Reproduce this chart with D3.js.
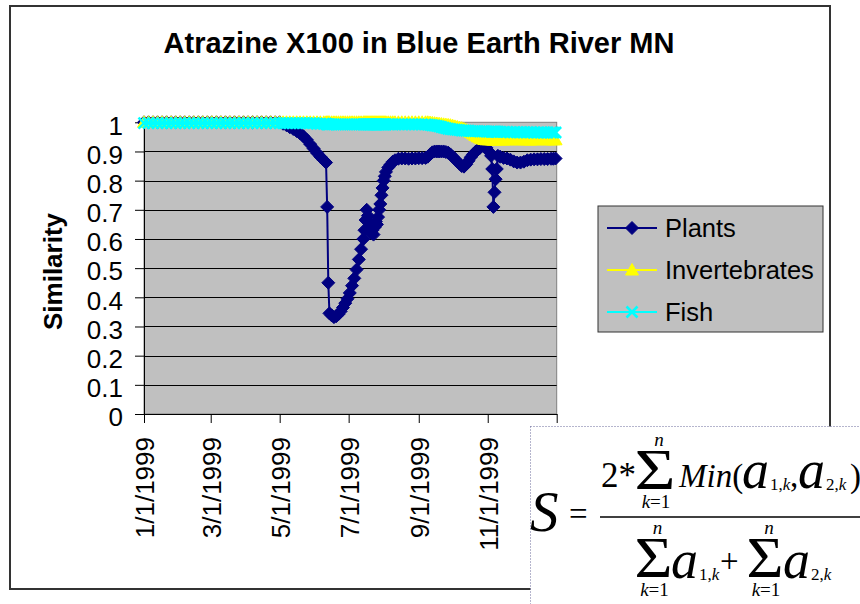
<!DOCTYPE html>
<html>
<head>
<meta charset="utf-8">
<script src="https://cdn.jsdelivr.net/npm/d3@7"></script>
<style>
  body { margin: 0; background: #fff; }
  svg { display: block; }
</style>
</head>
<body>
<div id="chart"></div>
<script>
// sample dates (1999), finer where the Plants curve moves fast
const dates = [
  "1/1","1/5","1/9","1/13","1/17","1/21","1/25","1/29","2/2","2/6","2/10","2/14","2/18","2/22","2/26","3/2","3/6","3/10","3/14","3/18","3/22","3/26","3/30","4/3","4/7","4/11","4/15","4/19","4/23","4/27","5/1",
  "5/4","5/7","5/10","5/13","5/16","5/19","5/22","5/25","5/28","5/31","6/3","6/6","6/9","6/11",
  "6/12","6/13","6/14","6/16","6/18","6/20","6/22","6/24","6/26","6/28","6/30","7/2","7/4","7/6","7/8","7/10","7/12","7/14","7/15","7/16","7/17","7/18","7/19","7/20","7/21","7/22","7/23","7/24","7/25","7/26","7/27","7/28","7/29","7/30","7/31","8/1","8/2","8/3","8/5","8/7","8/9","8/11",
  "8/14","8/17","8/20","8/23","8/26","8/29","9/1","9/4","9/7",
  "9/9","9/11","9/13","9/15","9/17","9/19","9/21","9/23","9/25","9/27","9/29","10/1","10/3","10/5","10/7","10/9","10/11","10/13","10/15","10/17","10/19","10/21","10/23","10/25","10/27","10/29","10/31","11/2","11/4",
  "11/5","11/6","11/7","11/8","11/9","11/10","11/12","11/15","11/18","11/21","11/24","11/27","11/30","12/3","12/6","12/9","12/12","12/15","12/18","12/21","12/24","12/27","12/29","12/31"
];

const plantValues = [
  1,1,1,1,1,1,1,1,1,1,1,1,1,1,1,1,1,1,1,1,1,1,1,1,1,1,1,1,1,1,1,
  0.995,0.99,0.983,0.977,0.97,0.962,0.952,0.94,0.925,0.91,0.895,0.882,0.87,0.862,
  0.71,0.45,0.345,0.338,0.332,0.335,0.342,0.352,0.365,0.38,0.395,0.415,0.44,0.465,0.495,0.53,0.565,0.6,0.63,0.665,0.7,0.68,0.655,0.635,0.62,0.63,0.615,0.64,0.66,0.65,0.675,0.7,0.72,0.75,0.775,0.8,0.815,0.83,0.845,0.855,0.865,0.87,
  0.875,0.876,0.876,0.875,0.876,0.876,0.877,0.877,0.878,
  0.882,0.89,0.897,0.9,0.9,0.9,0.9,0.9,0.898,0.896,0.89,0.882,0.874,0.866,0.858,0.85,0.848,0.856,0.868,0.88,0.89,0.898,0.905,0.912,0.92,0.922,0.912,0.9,0.885,
  0.84,0.71,0.76,0.805,0.84,0.885,0.882,0.878,0.876,0.872,0.866,0.862,0.862,0.865,0.87,0.872,0.873,0.873,0.874,0.874,0.874,0.875,0.875,0.876
];

const invertValues = [
  1,1,1,1,1,1,1,1,1,1,1,1,1,1,1,1,1,1,1,1,1,1,1,1,1,1,1,1,1,1,1,
  1,1,1,1,1,1,1,1,1,1,1,1,1,1,
  1,1,1,1,1,1,1,1,1,1,1,1,1,1,1,1,1,1,1,1,1,1,1,1,1,1,1,1,1,1,1,1,1,1,1,1,1,1,1,1,1,1,
  1,1,1,1,1,1,1,1,1,
  1,0.999,0.998,0.997,0.996,0.995,0.994,0.993,0.992,0.991,0.99,0.988,0.986,0.984,0.982,0.98,0.977,0.974,0.97,0.965,0.96,0.955,0.95,0.946,0.943,0.941,0.94,0.94,0.94,
  0.94,0.939,0.94,0.94,0.941,0.94,0.94,0.939,0.94,0.94,0.941,0.94,0.94,0.94,0.94,0.939,0.94,0.94,0.941,0.94,0.94,0.94,0.94,0.94
];

const fishValues = [
  0.997,0.997,0.997,0.997,0.997,0.997,0.997,0.997,0.997,0.997,0.997,0.997,0.997,0.997,0.997,0.997,0.997,0.997,0.997,0.997,0.997,0.997,0.997,0.997,0.997,0.997,0.997,0.997,0.997,0.997,0.997,
  0.997,0.997,0.997,0.997,0.997,0.997,0.997,0.997,0.997,0.997,0.995,0.995,0.995,0.995,
  0.993,0.993,0.993,0.993,0.993,0.993,0.993,0.993,0.993,0.993,0.993,0.993,0.993,0.993,0.993,0.993,0.993,0.993,0.993,0.993,0.993,0.993,0.993,0.993,0.993,0.993,0.993,0.993,0.993,0.993,0.993,0.993,0.993,0.993,0.993,0.993,0.993,0.993,0.993,0.993,0.993,0.993,
  0.993,0.993,0.993,0.993,0.993,0.993,0.993,0.993,0.993,
  0.992,0.991,0.99,0.989,0.988,0.986,0.984,0.982,0.98,0.978,0.977,0.976,0.975,0.974,0.973,0.972,0.972,0.971,0.971,0.97,0.97,0.97,0.97,0.969,0.969,0.969,0.968,0.968,0.968,
  0.968,0.968,0.968,0.968,0.967,0.967,0.967,0.967,0.967,0.966,0.966,0.966,0.966,0.966,0.966,0.966,0.965,0.965,0.965,0.965,0.965,0.965,0.965,0.965
];

const seriesNames = ["Plants", "Invertebrates", "Fish"];
const yTicks = [0, 0.1, 0.2, 0.3, 0.4, 0.5, 0.6, 0.7, 0.8, 0.9, 1];
const yTickLabels = ["0", "0.1", "0.2", "0.3", "0.4", "0.5", "0.6", "0.7", "0.8", "0.9", "1"];
const xTickDates = ["1/1/1999", "3/1/1999", "5/1/1999", "7/1/1999", "9/1/1999", "11/1/1999", "1/1/2000"];
// the 1/1/2000 label sits under the equation box in the reference
const xTickLabels = ["1/1/1999", "3/1/1999", "5/1/1999", "7/1/1999", "9/1/1999", "11/1/1999"];

const FONT = 'Arial, "Liberation Sans", sans-serif';
const SERIF = '"Liberation Serif", "Times New Roman", serif';
const colors = ["#000080", "#ffff00", "#00ffff"];

const W = 860, H = 604;
const plot = { left: 144, right: 556.7, top: 122.3, bottom: 414 };

const parseDate = d3.timeParse("%m/%d/%Y");
const toDate = s => parseDate(s + "/1999");

const svg = d3.select("#chart").append("svg")
  .attr("width", W)
  .attr("height", H);

// chart frame
svg.append("rect")
  .attr("x", 10).attr("y", 6).attr("width", 820).attr("height", 583)
  .attr("fill", "#fff").attr("stroke", "#333").attr("stroke-width", 2);

const x = d3.scaleTime()
  .domain([parseDate("1/1/1999"), parseDate("1/1/2000")])
  .range([plot.left, plot.right]);
const y = d3.scaleLinear().domain([0, 1]).range([plot.bottom, plot.top]);

// plot area + gridlines
svg.append("rect")
  .attr("x", plot.left).attr("y", plot.top)
  .attr("width", plot.right - plot.left).attr("height", plot.bottom - plot.top)
  .attr("fill", "#c0c0c0").attr("stroke", "#808080");

svg.append("g").selectAll("line")
  .data(yTicks.filter(v => v > 0 && v < 1))
  .join("line")
  .attr("x1", plot.left).attr("x2", plot.right)
  .attr("y1", d => Math.round(y(d)) + 0.5).attr("y2", d => Math.round(y(d)) + 0.5)
  .attr("stroke", "#000");

// axes
const yAxis = svg.append("g")
  .attr("transform", `translate(${plot.left},0)`)
  .call(d3.axisLeft(y).tickValues(yTicks).tickFormat((d, i) => yTickLabels[i])
    .tickSize(9).tickSizeOuter(0).tickPadding(12));
yAxis.attr("font-size", 26).attr("font-family", FONT);
yAxis.selectAll("text").attr("dy", "0.45em").attr("fill", "#000");

const xAxis = svg.append("g")
  .attr("transform", `translate(0,${plot.bottom})`)
  .call(d3.axisBottom(x).tickValues(xTickDates.map(parseDate))
    .tickFormat((d, i) => xTickLabels[i] || "").tickSize(9).tickSizeOuter(0));
xAxis.attr("font-size", 26).attr("font-family", FONT);
xAxis.selectAll("text")
  .attr("y", null).attr("dy", null)
  .attr("text-anchor", "end")
  .attr("fill", "#000")
  .attr("transform", "translate(9.5,23) rotate(-90)");

// series
const seriesData = [plantValues, invertValues, fishValues].map((vals, k) => ({
  name: seriesNames[k],
  color: colors[k],
  points: dates.map((s, i) => ({ date: toDate(s), value: vals[i] }))
}));

const markerPaths = {
  Plants: "M0,-6.5L6.5,0L0,6.5L-6.5,0Z",
  Invertebrates: "M0,-6.5L6.5,5L-6.5,5Z",
  Fish: "M-5.5,-5.5L5.5,5.5M-5.5,5.5L5.5,-5.5"
};

function drawMarker(sel, name, color) {
  sel.attr("d", markerPaths[name]);
  if (name === "Fish") {
    sel.attr("fill", "none").attr("stroke", color).attr("stroke-width", 2.6);
  } else {
    sel.attr("fill", color).attr("stroke", color).attr("stroke-width", 1);
  }
}

const line = d3.line().x(d => x(d.date)).y(d => y(d.value));

const gSeries = svg.append("g");
for (const s of seriesData) {
  const g = gSeries.append("g");
  g.append("path")
    .datum(s.points)
    .attr("d", line)
    .attr("fill", "none")
    .attr("stroke", s.color)
    .attr("stroke-width", 2);
  g.selectAll("path.mk").data(s.points).join("path")
    .attr("class", "mk")
    .attr("transform", d => `translate(${x(d.date)},${y(d.value)})`)
    .call(drawMarker, s.name, s.color);
}

// title and y label
svg.append("text")
  .attr("x", 419).attr("y", 53)
  .attr("text-anchor", "middle")
  .attr("font-family", FONT).attr("font-weight", "bold").attr("font-size", 29)
  .text("Atrazine X100 in Blue Earth River MN");

svg.append("text")
  .attr("transform", "translate(62,271.5) rotate(-90)")
  .attr("text-anchor", "middle")
  .attr("font-family", FONT).attr("font-weight", "bold").attr("font-size", 26)
  .text("Similarity");

// legend
const legend = svg.append("g");
legend.append("rect")
  .attr("x", 598).attr("y", 206).attr("width", 225).attr("height", 126)
  .attr("fill", "#c0c0c0").attr("stroke", "#333");
const legendY = d3.scalePoint().domain(seriesNames).range([228, 312]);
const item = legend.selectAll("g.item").data(seriesData).join("g")
  .attr("class", "item")
  .attr("transform", d => `translate(0,${legendY(d.name)})`);
item.append("line")
  .attr("x1", 607).attr("x2", 657)
  .attr("stroke", d => d.color).attr("stroke-width", 2);
item.append("path")
  .attr("transform", "translate(632,0)")
  .each(function (d) { d3.select(this).call(drawMarker, d.name, d.color); });
item.append("text")
  .attr("x", 665).attr("y", 9)
  .attr("font-family", FONT).attr("font-size", 25.5)
  .text(d => d.name);

// equation box (overlays the lower right corner)
svg.append("rect")
  .attr("x", 530.5).attr("y", 426.5).attr("width", 340).attr("height", 190)
  .attr("fill", "#fff").attr("stroke", "#6a6a9a").attr("stroke-dasharray", "1,2");

const fx = svg.append("g").attr("font-family", SERIF).attr("fill", "#000");
function put(parts, px, py, size, anchor) {
  const t = fx.append("text")
    .attr("x", px).attr("y", py)
    .attr("font-size", size)
    .attr("text-anchor", anchor || "start");
  parts.forEach(([str, it]) => t.append("tspan")
    .attr("font-style", it ? "italic" : "normal").text(str));
  return t;
}
function sigma(cx, py, wid) {
  put([["Σ"]], cx, py, 58, "middle")
    .attr("textLength", wid).attr("lengthAdjust", "spacingAndGlyphs");
  put([["n", true]], cx + 4, py - 43, 19, "middle");
  put([["k", true], ["=1"]], cx + 1, py + 19, 19, "middle");
}

put([["S", true]], 530, 531, 57);
put([["="]], 569, 525, 33);
fx.append("line")
  .attr("x1", 600).attr("x2", 870).attr("y1", 517).attr("y2", 517)
  .attr("stroke", "#000").attr("stroke-width", 1.5);

// numerator
put([["2*"]], 601, 487, 35);
sigma(655, 489, 41);
put([["Min", true], ["("]], 679, 487, 33);
put([["a", true]], 742, 488, 54);
put([["1,"], ["k", true]], 770, 490, 17);
put([[","]], 790, 487, 33);
put([["a", true]], 798, 488, 54);
put([["2,"], ["k", true]], 826, 490, 17);
put([[")"]], 850, 487, 33);

// denominator
sigma(653.5, 577, 38);
put([["a", true]], 671, 578, 54);
put([["1,"], ["k", true]], 699, 580, 17);
put([["+"]], 720, 572, 33);
sigma(765, 577, 37);
put([["a", true]], 783, 578, 54);
put([["2,"], ["k", true]], 811, 580, 17);
</script>
</body>
</html>
